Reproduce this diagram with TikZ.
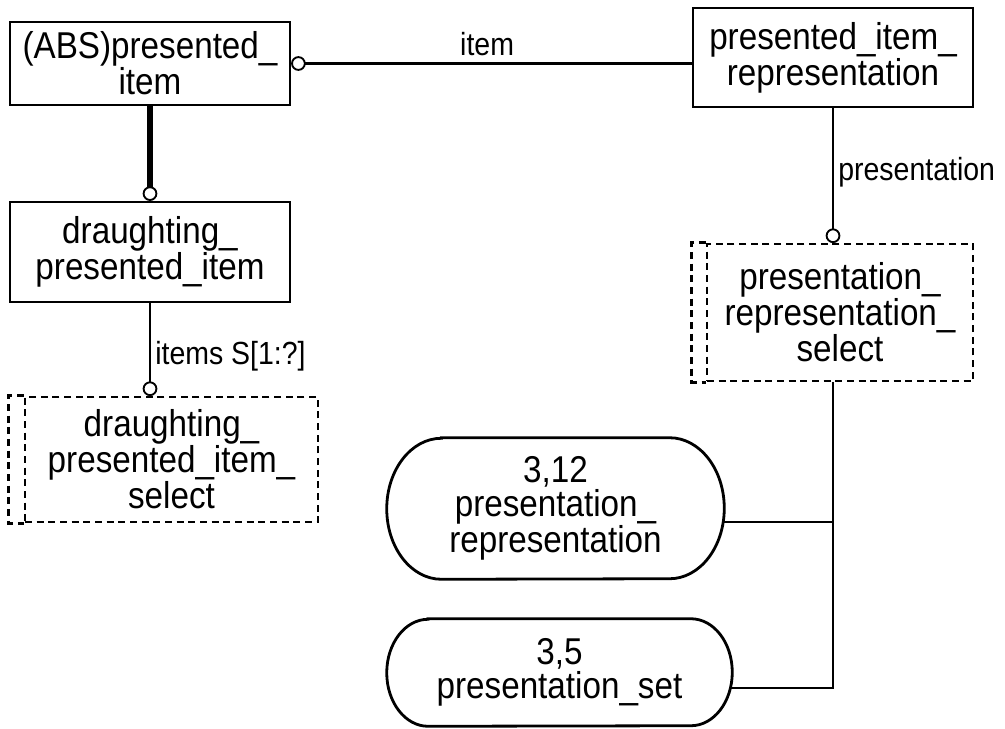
\documentclass[tikz,border=0pt]{standalone}
\usepackage{fontspec}
\setmainfont{Liberation Sans}[FakeStretch=0.89]
\usetikzlibrary{calc,%
		positioning,%
		shapes}

\tikzset{
  linea/.style={line width=1.9pt},
  entita/.style={draw, line width=2.1pt, inner sep=0pt, align=center, font=\fontsize{28}{25.5}\selectfont},
  tratteggio/.style={line width=1.9pt, dash pattern=on 5.25pt off 3.5pt},
  selezione/.style={entita, tratteggio},
  schema/.style={inner sep=0pt, align=center, font=\fontsize{28}{25.5}\selectfont},
  ruolo/.style={inner sep=3pt, font=\fontsize{24}{25}\selectfont},
  cerchio/.style={fill=white, draw=black, line width=1.4pt}
}

% contorno con i lati curvi (nodo, raggio x, raggio y)
\newcommand{\bordoschema}[3]{%
  \draw[line width=2.1pt] ($(#1.north west)+(#2,0)$) -- ($(#1.north east)-(#2,0)$)
    arc[start angle=90, end angle=-90, x radius=#2, y radius=#3]
    -- ($(#1.south west)+(#2,0)$)
    arc[start angle=270, end angle=90, x radius=#2, y radius=#3] -- cycle;}

\begin{document}
\begin{tikzpicture}[x=0.75pt,y=0.75pt]
  \useasboundingbox (0,0) rectangle (1005,-728);%i margini del disegno

  \node[entita, minimum width=210pt, minimum height=62.25pt] (psi) at (150,-63.5) {(ABS)presented\_\\item};%entita astratta
  \node[entita, minimum width=210pt, minimum height=75pt] (dpi) at (150,-252) {draughting\_\\presented\_item};%sottotipo
  \node[selezione, minimum width=219.75pt, minimum height=93.75pt] (dpis) at (171.5,-459.5) {draughting\_\\presented\_item\_\\select};%select a sinistra
  \node[entita, minimum width=210pt, minimum height=74.25pt] (pir) at (833,-57.5) {presented\_item\_\\representation};%entita a destra
  \node[selezione, minimum width=199.5pt, minimum height=102.75pt] (prs) at (840,-312.5) {presentation\_\\representation\_\\select};%select a destra
  \node[schema, minimum width=252.75pt, minimum height=105.75pt] (pr) at (555.5,-508.5) {3,12\\presentation\_\\representation};%rimando 3,12
  \node[schema, minimum width=258.75pt, minimum height=80.25pt] (ps) at (559.5,-672.5) {3,5\\presentation\_set};%rimando 3,5
  \bordoschema{pr}{41pt}{52.875pt}
  \bordoschema{ps}{31pt}{40.125pt}

  \draw[tratteggio] (dpis.north west) -- ++(-15,0) |- (dpis.south west);%doppio lato sinistro
  \draw[tratteggio] (prs.north west) -- ++(-14,0) |- (prs.south west);%doppio lato sinistro

  \coordinate (c1) at ($(psi.east)+(7,0)$);%cerchio sull'entita astratta
  \coordinate (c2) at ($(dpi.north)+(0,7)$);%cerchio sul sottotipo
  \coordinate (c3) at ($(dpi.south |- dpis.north)+(0,7)$);%cerchio sulla select a sinistra
  \coordinate (c4) at ($(pir.south |- prs.north)+(0,7)$);%cerchio sulla select a destra
  \coordinate (j1) at (pir.south |- 0,-522);%ramo verso 3,12
  \coordinate (j2) at (pir.south |- 0,-688);%ramo verso 3,5

  \draw[linea] (c1) -- node[ruolo, above=2pt, pos=0.48] {item} (c1 -| pir.west);
  \draw[line width=5pt] (psi.south) -- (c2);%linea del sottotipo
  \draw[linea] (dpi.south) -- node[ruolo, right, pos=0.62] {items S[1:?]} (c3);
  \draw[linea] (pir.south) -- node[ruolo, right, pos=0.5] {presentation} (c4);
  \draw[linea] (pir.south |- prs.south) -- (j2) -- ($(j2 -| ps.east)-(2,0)$);
  \draw[linea] (j1) -- ($(j1 -| pr.east)-(1,0)$);

  \draw[cerchio] (c1) circle (4.8pt);
  \draw[cerchio] (c2) circle (4.8pt);
  \draw[cerchio] (c3) circle (4.8pt);
  \draw[cerchio] (c4) circle (4.8pt);
\end{tikzpicture}
\end{document}
